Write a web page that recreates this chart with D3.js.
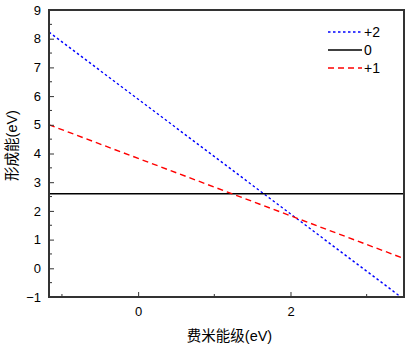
<!DOCTYPE html>
<html>
<head>
<meta charset="utf-8">
<script src="https://cdn.jsdelivr.net/npm/d3@7"></script>
<style>
  body { margin: 0; background: #fff; }
  text { font-family: "Liberation Sans", Arial, "Noto Sans CJK SC", sans-serif; }
</style>
</head>
<body>
<svg id="chart"></svg>
<script>
// charge states and their formation energy lines (endpoints)
var series = ["+2", "0", "+1"];
var line2 = [[-1.17, 8.23], [3.45, -1.0]];
var line0 = [[-1.17, 2.6], [3.5, 2.6]];
var line1 = [[-1.17, 5.0], [3.5, 0.33]];
var xTicks = [0, 2];
var xMinor = [-1, 1, 3];
var yTicks = [-1, 0, 1, 2, 3, 4, 5, 6, 7, 8, 9];

var margin = { top: 10, right: 6, bottom: 48, left: 49 },
    width = 410 - margin.left - margin.right,
    height = 345 - margin.top - margin.bottom;

var svg = d3.select("#chart")
    .attr("width", 410)
    .attr("height", 345)
    .append("g")
    .attr("transform", "translate(" + margin.left + "," + margin.top + ")");

var x = d3.scaleLinear().domain([-1.17, 3.49]).range([0, width]);
var y = d3.scaleLinear().domain([-1, 9]).range([height, 0]);

svg.append("clipPath").attr("id", "clip")
    .append("rect").attr("width", width).attr("height", height);

var line = d3.line()
    .x(function(d) { return x(d[0]); })
    .y(function(d) { return y(d[1]); });

var styles = {
    "+2": { data: line2, color: "#0000ff", dash: "2.5,2.5" },
    "0":  { data: line0, color: "#000000", dash: null },
    "+1": { data: line1, color: "#ff0000", dash: "6,4" }
};

var plot = svg.append("g").attr("clip-path", "url(#clip)");
series.forEach(function(s) {
    plot.append("path")
        .attr("d", line(styles[s].data))
        .attr("fill", "none")
        .attr("stroke", styles[s].color)
        .attr("stroke-width", 1.4)
        .attr("stroke-dasharray", styles[s].dash);
});

// axes with inward ticks
var axisColor = "#333";
var xAxis = svg.append("g")
    .attr("transform", "translate(0," + height + ")")
    .call(d3.axisBottom(x).tickValues(xTicks).tickSize(-5).tickPadding(10).tickFormat(d3.format("d")));
xAxis.append("g").selectAll("line").data(xMinor).enter().append("line")
    .attr("x1", function(d) { return x(d); }).attr("x2", function(d) { return x(d); })
    .attr("y1", 0).attr("y2", -3);

var yAxis = svg.append("g")
    .call(d3.axisLeft(y).tickValues(yTicks).tickSize(-5).tickPadding(8).tickFormat(d3.format("d")));
yAxis.append("g").selectAll("line").data(d3.range(-0.5, 9, 1)).enter().append("line")
    .attr("x1", 0).attr("x2", 3)
    .attr("y1", function(d) { return y(d); }).attr("y2", function(d) { return y(d); });

[xAxis, yAxis].forEach(function(a) {
    a.select(".domain").remove();
    a.selectAll("line").attr("stroke", axisColor).attr("stroke-width", 1);
    a.selectAll("text").style("font-size", "13px").attr("fill", "#000");
});

// frame
svg.append("rect")
    .attr("width", width).attr("height", height)
    .attr("fill", "none")
    .attr("stroke", axisColor)
    .attr("stroke-width", 2);

// axis labels
svg.append("text")
    .attr("x", width / 2 + 3)
    .attr("y", height + 44)
    .style("text-anchor", "middle")
    .style("font-size", "14.5px")
    .text("费米能级(eV)");

svg.append("text")
    .attr("transform", "rotate(-90)")
    .attr("x", -height / 2 + 8)
    .attr("y", -32)
    .style("text-anchor", "middle")
    .style("font-size", "14.5px")
    .text("形成能(eV)");

// legend
var legend = svg.selectAll(".legend")
    .data(series)
    .enter().append("g")
    .attr("class", "legend")
    .attr("transform", function(d, i) { return "translate(279," + (22 + i * 18) + ")"; });

legend.append("line")
    .attr("x1", 0).attr("x2", 34)
    .attr("stroke", function(d) { return styles[d].color; })
    .attr("stroke-width", 1.4)
    .attr("stroke-dasharray", function(d) { return styles[d].dash; });

legend.append("text")
    .attr("x", 36)
    .attr("dy", "0.35em")
    .style("font-size", "14px")
    .text(function(d) { return d; });
</script>
</body>
</html>
